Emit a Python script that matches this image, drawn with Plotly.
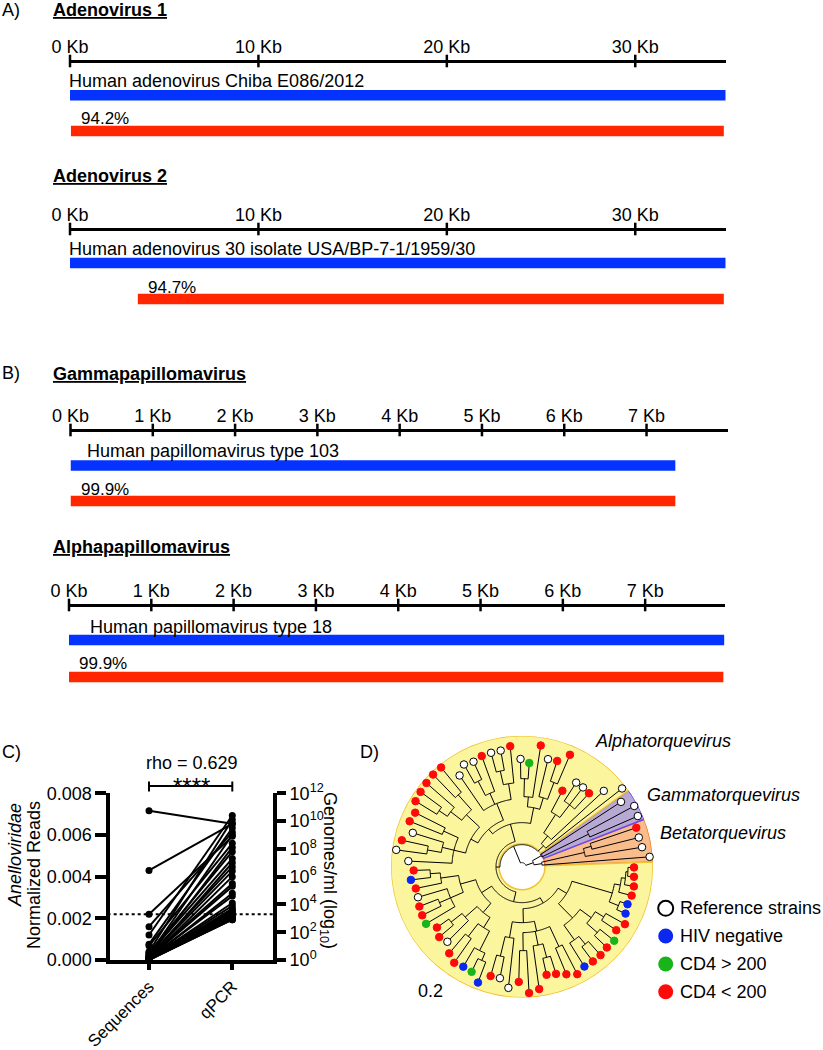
import plotly.graph_objects as go

W, H = 823, 1050
FONT = "Liberation Sans, Arial, sans-serif"
BLUE_BAR = "#0433FF"
RED_BAR = "#FF2600"

# ------------------------------------------------------------------ data: A / B
track_titles = ["Adenovirus 1", "Adenovirus 2", "Gammapapillomavirus", "Alphapapillomavirus"]
ref_names = ["Human adenovirus Chiba E086/2012",
             "Human adenovirus 30 isolate USA/BP-7-1/1959/30",
             "Human papillomavirus type 103",
             "Human papillomavirus type 18"]
scale_len_kb = [34.8, 34.8, 7.99, 7.97]
tick_step_kb = [10, 10, 1, 1]
ref_start_kb = [0.0, 0.0, 0.0, 0.0]
ref_end_kb = [34.8, 34.8, 7.35, 7.96]
contig_start_kb = [0.05, 3.6, 0.0, 0.0]
contig_end_kb = [34.7, 34.7, 7.35, 7.95]
identity_pct = [94.2, 94.7, 99.9, 99.9]

# ------------------------------------------------------------------ data: C
seq_reads = [0.00716, 0.0043, 0.0022, 0.0016, 0.0012, 0.00076, 0.00068, 0.0004,
             0.00035, 0.0003, 0.00025, 0.0002, 0.00018, 0.00015, 0.00012, 0.0001,
             0.0001, 0.00008, 0.00007, 0.00006, 0.00005, 0.00005, 0.00004, 0.00004,
             0.00003, 0.00003, 0.00002, 0.00002, 0.00001, 0.00001, 0.0, 0.0, 0.0, 0.0]
qpcr_log10 = [9.8, 9.8, 8.9, 9.2, 10.4, 9.5, 8.4, 10.1,
              7.8, 7.3, 9.0, 6.7, 8.1, 6.4, 5.5, 5.3,
              7.0, 4.6, 6.0, 4.1, 3.9, 3.5, 4.8, 3.3,
              3.1, 2.9, 3.7, 3.0, 2.95, 3.2, 3.4, 2.9, 3.0, 3.6]
detection_limit = 0.0022
rho = 0.629
c_categories = ["Sequences", "qPCR"]

# ------------------------------------------------------------------ data: D
# leaves in counter-clockwise order starting next to the 0 deg line
# W = reference strain, B = HIV negative, G = CD4 > 200, R = CD4 < 200
leaf_group = list("WWWR" "WWW"
                  "WWRWWRRRWRGW" "RWWRWWWRRRRRRRWRWW"
                  "RBRWRRGRRWRRBGBRWW" "RRRRRRRBRRRGRRBBRRRR")
leaf_dist = [128, 121.6, 120.4, 120.7,
             126.4, 127.6, 118.3,
             127, 111.5, 99.4, 100, 100, 86, 121.7, 111.4, 110.6, 122.6, 103.9, 107.7,
             121, 118, 118, 117.7, 115.6, 117.5, 110.5, 128, 128, 127, 126, 125, 119.7,
             121.2, 114.3, 123, 126.9, 113.8,
             108.4, 111.9, 108.4, 108.4, 110.1, 111, 111.7, 104.6, 108.7, 105.9, 113.2,
             117.6, 116, 116.6, 124, 113.8, 113.7, 122,
             115.3, 126.6, 123.6, 110.9, 112.5, 116.4, 120.9, 117.8, 118.3, 118.3, 117.2,
             118.3, 113.7, 117.9, 113.7, 112, 113.4, 113.6, 112.4, 112]
# nested clades: [node distance, child, child, ...]; ints are leaf indices
beta_clade = [20, 0, [64, 1, [72, 2, 3]]]
gamma_clade = [22, 6, [74, 5, 4]]
alpha_clade = [22,
    [30, 7, [40, 8, [62, [78, 9, 10, 11], 12]]],
    [26,
        [44,
            [60, [72, [90, 13, 14], 15], [70, 16, [88, 17, 18]]],
            [50,
                [68, [84, 19, [98, 20, 21]], [80, 22, [96, 23, 24]], 25],
                [58, [76, [96, 26, 27], [90, 28, [100, 29, 30]]],
                     [70, [86, 31, 32], [82, 33, [96, 34, 35]], 36]]]],
        [36,
            [48,
                [64, [82, [92, 37, 38], 39], [78, 40, [90, 41, 42], 43]],
                [60, [76, [90, 44, 45], 46], [72, [88, 47, 48], [94, 49, [102, 50, 51]]]]],
            [42,
                [56, [72, [92, 52, 53], 54], [66, [84, 55, 56], [80, 57, [94, 58, 59]], [88, 60, 61]]],
                [52, [72, [90, 62, [100, 63, 64]], [86, [100, 65, 66], [96, 67, 68]]],
                     [64, [94, [104, 69, 70], [100, 71, [104, 72, [106, 73, 74]]]]]]]]]]
tree = [4, alpha_clade, [12, gamma_clade, beta_clade]]
clade_names = ["Betatorquevirus", "Gammatorquevirus", "Alphatorquevirus"]
clade_leaf_ranges = [(0, 3), (4, 6), (7, 74)]
group_order = ["W", "B", "G", "R"]
group_labels = ["Reference strains", "HIV negative", "CD4 > 200", "CD4 < 200"]
group_fill = {"W": "white", "B": "#0A28F0", "G": "#19B419", "R": "#FF0A0A"}
clade_fill = ["#F9BD8B", "#B7A9D3", "#FBF59E"]
clade_edge = ["#F47A2A", "#6B47F0", "#F2C233"]

# ------------------------------------------------------------------ layout (px)
title_y = [9.5, 176, 374, 547]
axis_y = [61, 229, 430, 605]
axis_x0 = [70, 70, 70.5, 69]
axis_x1 = [725.7, 725.7, 728, 725]
ref_label_x = [67, 67, 85, 88]
ref_label_y = [81, 249, 451, 627]
ref_bar_y = [95.3, 263, 465.5, 640]
pct_y = [119, 288, 489, 663]
contig_bar_y = [131, 299, 501, 677]


def fx(p):
    return p / W


def fy(p):
    return 1 - p / H


fig = go.Figure()
annotations = []
shapes = []
lay = dict(
    template="none",
    width=W, height=H, margin=dict(l=0, r=0, t=0, b=0, pad=0), autosize=False,
    paper_bgcolor="white", plot_bgcolor="rgba(0,0,0,0)",
    showlegend=False, barmode="overlay",
    font=dict(family=FONT, size=18, color="black"),
    xaxis=dict(domain=[0, 1], range=[0, W], visible=False, automargin=False),
    yaxis=dict(domain=[0, 1], range=[H, 0], visible=False, anchor="x", automargin=False),
)


def note(text, x, y, size=18, xanchor="left", yanchor="middle", angle=0, **kw):
    d = dict(text=text, x=x, y=y, xref="paper", yref="paper", showarrow=False,
             xanchor=xanchor, yanchor=yanchor, textangle=angle,
             font=dict(family=FONT, size=size, color="black"))
    d.update(kw)
    annotations.append(d)


# ------------------------------------------------------------------ panels A & B
for i in range(4):
    xa = f"x{i + 2}"
    n_ticks = int(scale_len_kb[i] // tick_step_kb[i]) + 1
    tickvals = [k * tick_step_kb[i] for k in range(n_ticks)]
    lay[f"xaxis{i + 2}"] = dict(
        domain=[fx(axis_x0[i]), fx(axis_x1[i])], range=[0, scale_len_kb[i]],
        anchor="free", position=fy(axis_y[i]), side="top", automargin=False,
        showline=True, linecolor="black", linewidth=3, ticks="",
        tickvals=tickvals, ticktext=[f"{v} Kb" for v in tickvals],
        tickfont=dict(size=18), showgrid=False, zeroline=False, ticklabelstandoff=0)
    fig.add_trace(go.Scatter(
        x=tickvals, y=[axis_y[i]] * len(tickvals), xaxis=xa, yaxis="y", mode="markers",
        marker=dict(symbol="line-ns", size=9, line=dict(width=2.5, color="black")),
        hoverinfo="skip", cliponaxis=False))
    fig.add_trace(go.Bar(
        orientation="h", y=[ref_bar_y[i]], base=[ref_start_kb[i]],
        x=[ref_end_kb[i] - ref_start_kb[i]], width=10.5,
        marker=dict(color=BLUE_BAR, line=dict(width=0)), xaxis=xa, yaxis="y"))
    fig.add_trace(go.Bar(
        orientation="h", y=[contig_bar_y[i]], base=[contig_start_kb[i]],
        x=[contig_end_kb[i] - contig_start_kb[i]], width=10.5,
        marker=dict(color=RED_BAR, line=dict(width=0)), xaxis=xa, yaxis="y"))
    note(f"<b><u>{track_titles[i]}</u></b>", fx(51), fy(title_y[i]))
    note(ref_names[i], fx(ref_label_x[i]), fy(ref_label_y[i]))
    annotations.append(dict(
        text=f"{identity_pct[i]:.1f}%", x=contig_start_kb[i], xref=xa, xshift=8,
        y=fy(pct_y[i]), yref="paper", showarrow=False, xanchor="left", yanchor="middle",
        font=dict(family=FONT, size=17, color="black")))

note("A)", 0, fy(9.5))
note("B)", 0, fy(373))
note("C)", 0, fy(752))
note("D)", fx(358), fy(752))

# ------------------------------------------------------------------ panel C
cx0, cx1 = 110.3, 273.0
cat_px = [149.0, 232.3]
unit = cat_px[1] - cat_px[0]
lay["xaxis6"] = dict(
    domain=[fx(cx0), fx(cx1)],
    range=[(cx0 - cat_px[0]) / unit, 1 + (cx1 - cat_px[1]) / unit],
    anchor="y2", showline=True, linecolor="black", linewidth=4, automargin=False,
    ticks="outside", ticklen=6, tickwidth=4, tickcolor="black",
    tickvals=[0, 1], ticktext=c_categories, tickangle=-45,
    tickfont=dict(size=17), showgrid=False, zeroline=False)
lay["yaxis2"] = dict(
    domain=[fy(960), fy(793.3)], range=[0, 0.008], anchor="x6", automargin=False,
    showline=True, linecolor="black", linewidth=4,
    ticks="outside", ticklen=11, tickwidth=4, tickcolor="black",
    tickvals=[0, 0.002, 0.004, 0.006, 0.008], tickformat=".3f",
    tickfont=dict(size=18), showgrid=False, zeroline=False)
lay["yaxis3"] = dict(
    overlaying="y2", anchor="x6", side="right", range=[0, 12], automargin=False,
    showline=True, linecolor="black", linewidth=4,
    ticks="outside", ticklen=9, tickwidth=4, tickcolor="black",
    tickvals=list(range(0, 13, 2)), ticktext=[f"10<sup>{v}</sup>" for v in range(0, 13, 2)],
    tickfont=dict(size=18), showgrid=False, zeroline=False)

q_on_left = [q / 12 * 0.008 for q in qpcr_log10]
lx, ly = [], []
for s, q in zip(seq_reads, q_on_left):
    lx += [0, 1, None]
    ly += [s, q, None]
fig.add_trace(go.Scatter(x=[-1, 2], y=[detection_limit] * 2, xaxis="x6", yaxis="y2",
                         mode="lines", line=dict(color="black", width=2, dash="dot"),
                         hoverinfo="skip"))
fig.add_trace(go.Scatter(x=lx, y=ly, xaxis="x6", yaxis="y2", mode="lines",
                         line=dict(color="black", width=2), hoverinfo="skip"))
fig.add_trace(go.Scatter(x=[0] * len(seq_reads), y=seq_reads, xaxis="x6", yaxis="y2",
                         mode="markers", marker=dict(color="black", size=7), cliponaxis=False))
fig.add_trace(go.Scatter(x=[1] * len(qpcr_log10), y=qpcr_log10, xaxis="x6", yaxis="y3",
                         mode="markers", marker=dict(color="black", size=7), cliponaxis=False))

note(f"rho = {rho}", fx(191.7), fy(763))
annotations[-1]["xanchor"] = "center"
shapes.append(dict(type="line", xref="x6", x0=0, x1=1, yref="paper", y0=fy(786), y1=fy(786),
                   line=dict(color="black", width=2)))
for xc in (0, 1):
    shapes.append(dict(type="line", xref="x6", x0=xc, x1=xc, yref="paper",
                       y0=fy(781.5), y1=fy(791.5), line=dict(color="black", width=2)))
note("****", fx(191.7), fy(786.5), size=24, xanchor="center", borderpad=0)
note("<i>Anelloviridae</i>", fx(15), fy(855), xanchor="center", angle=-90)
note("Normalized Reads", fx(34), fy(875), xanchor="center", angle=-90)
note("Genomes/ml (log<sub>10</sub>)", fx(329), fy(870), xanchor="center", angle=90)

# ------------------------------------------------------------------ panel D
R_OUT, HOLE = 131.0, 23.0
n_leaf = len(leaf_group)
step = 360.0 / n_leaf
leaf_theta = [4.4 + step * k for k in range(n_leaf)]

lay["polar"] = dict(
    domain=dict(x=[fx(391), fx(653)], y=[fy(998.3), fy(735)]),
    bgcolor="rgba(0,0,0,0)", hole=0,
    radialaxis=dict(range=[0, R_OUT], visible=False),
    angularaxis=dict(visible=False, rotation=0, direction="counterclockwise"))

for ci, (a, b) in enumerate(clade_leaf_ranges):
    t0 = leaf_theta[a] - step / 2
    t1 = leaf_theta[b] + step / 2
    fig.add_trace(go.Barpolar(
        r=[R_OUT - HOLE], base=[HOLE], theta=[(t0 + t1) / 2], width=[t1 - t0],
        marker=dict(color=clade_fill[ci], line=dict(color=clade_edge[ci], width=1.5)),
        hoverinfo="skip"))

seg_r, seg_t = [], []


def layout_node(node):
    if isinstance(node, int):
        return leaf_theta[node], leaf_dist[node]
    r0 = node[0]
    kids = [layout_node(k) for k in node[1:]]
    ts = [k[0] for k in kids]
    lo, hi = min(ts), max(ts)
    n = max(2, int(hi - lo) + 2)
    seg_t.extend([lo + (hi - lo) * j / (n - 1) for j in range(n)] + [None])
    seg_r.extend([r0] * n + [None])
    for t, r in kids:
        seg_t.extend([t, t, None])
        seg_r.extend([r0, r, None])
    return (lo + hi) / 2, r0


root_t, root_r = layout_node(tree)
fig.add_trace(go.Scatterpolar(r=seg_r, theta=seg_t, mode="lines",
                              line=dict(color="black", width=1), hoverinfo="skip"))

for g in group_order:
    idx = [k for k in range(n_leaf) if leaf_group[k] == g]
    fig.add_trace(go.Scatterpolar(
        r=[leaf_dist[k] for k in idx], theta=[leaf_theta[k] for k in idx], mode="markers",
        marker=dict(size=7.5, color=group_fill[g],
                    line=dict(color="black" if g == "W" else group_fill[g], width=1)),
        hoverinfo="skip"))

note("<i>Alphatorquevirus</i>", fx(593.3), fy(740.7))
note("<i>Gammatorquevirus</i>", fx(645), fy(795))
note("<i>Betatorquevirus</i>", fx(658.3), fy(832.7))
note("0.2", fx(416), fy(990.7))

leg_y = [908.3, 936, 964, 991.7]
fig.add_trace(go.Scatter(
    x=[665.7] * 4, y=leg_y, xaxis="x", yaxis="y", mode="markers",
    marker=dict(size=15, color=[group_fill[g] for g in group_order],
                line=dict(color=["black", group_fill["B"], group_fill["G"], group_fill["R"]],
                          width=[2, 0, 0, 0])),
    hoverinfo="skip", cliponaxis=False))
for lbl, yy in zip(group_labels, leg_y):
    note(lbl, fx(678.3), fy(yy))

lay["annotations"] = annotations
lay["shapes"] = shapes
fig.update_layout(**lay)
fig.write_html("out.html", config={"displayModeBar": False, "staticPlot": True},
               post_script="document.body.style.margin='0px';")
